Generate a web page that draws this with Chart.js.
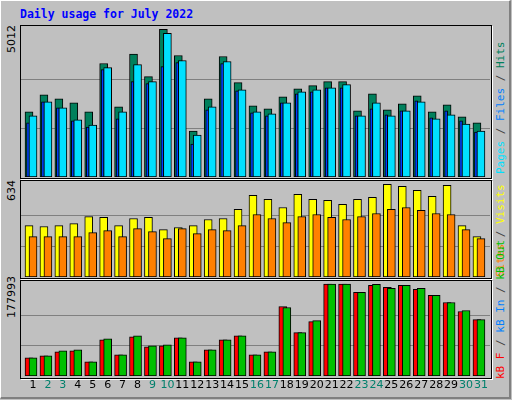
<!DOCTYPE html>
<html><head><meta charset="utf-8">
<script src="https://cdn.jsdelivr.net/npm/chart.js@4/dist/chart.umd.min.js"></script>
<style>
html,body{margin:0;padding:0;background:#C0C0C0;width:512px;height:400px;overflow:hidden}
#frame{position:absolute;left:0;top:0;width:508px;height:396px;border-right:2px solid #808080;border-bottom:2px solid #808080;border-left:1px solid #fff;border-top:1px solid #fff;background:#C0C0C0}
.panel{position:absolute;border:1px solid #000;box-shadow:1px 1px 0 #fff}
canvas{position:absolute}
.t{position:absolute;font-family:"DejaVu Sans Mono",monospace;font-size:11.5px;white-space:nowrap}
.rot{position:absolute;transform-origin:0 0;transform:rotate(-90deg);white-space:nowrap;font-family:"DejaVu Sans Mono",monospace;font-size:11px}
.lab{position:absolute;transform-origin:0 0;transform:rotate(-90deg);white-space:nowrap;font-family:"DejaVu Sans",sans-serif;font-size:11px;color:#000}
</style></head><body>
<div id="frame"></div>
<div class="t" style="left:20px;top:7px;color:#0000FF;font-weight:bold">Daily usage for July 2022</div>
<div class="panel" style="left:20px;top:25px;width:470px;height:152px"></div>
<div class="panel" style="left:20px;top:180px;width:470px;height:97px"></div>
<div class="panel" style="left:20px;top:280px;width:470px;height:97px"></div>
<canvas id="c1" width="469" height="151" style="left:21px;top:26px;width:469px;height:151px"></canvas>
<canvas id="c2" width="469" height="96" style="left:21px;top:181px;width:469px;height:96px"></canvas>
<canvas id="c3" width="469" height="117" style="left:21px;top:281px;width:469px;height:117px"></canvas>
<div id="m1" class="lab" style="left:5px;top:53px"></div>
<div id="m2" class="lab" style="left:5px;top:201px"></div>
<div id="m3" class="lab" style="left:5px;top:318px"></div>
<div class="rot" style="left:494px;top:174px"><span style="color:#00E0FF">Pages</span><span style="color:#404040"> / </span><span style="color:#0080FF">Files</span><span style="color:#404040"> / </span><span style="color:#00805C">Hits</span></div>
<div class="rot" style="left:494px;top:277px"><span style="color:#FF8000">Sites</span><span style="color:#404040"> / </span><span style="color:#FFFF00">Visits</span></div>
<div class="rot" style="left:494px;top:379px"><span style="color:#FF0000">kB F</span><span style="color:#404040"> / </span><span style="color:#0080FF">kB In</span><span style="color:#404040"> / </span><span style="color:#00C000">kB Out</span></div>
<script>
const days = [1,2,3,4,5,6,7,8,9,10,11,12,13,14,15,16,17,18,19,20,21,22,23,24,25,26,27,28,29,30,31];
const weekend = [2,3,9,10,16,17,23,24,30,31];
const hits  = [2210,2791,2654,2517,2210,3850,2381,4169,3406,5012,4123,1560,2654,4089,3201,2415,2312,2722,2996,3098,3235,3235,2244,2825,2278,2483,2756,2210,2449,2039,1834];
const files = [2073,2551,2346,1936,1765,3713,2210,3816,3235,4875,3952,1424,2381,3918,2961,2210,2141,2517,2893,2961,3030,3132,2073,2517,2073,2244,2551,1970,2107,1800,1560];
const pages = [1834,2551,2346,1902,1697,3645,1970,3235,3166,3747,3884,1116,2278,3850,2927,2175,2073,2517,2825,2893,3030,3030,2073,2312,2107,2244,2586,2005,2244,1902,1526];
const visits= [351,345,351,365,413,407,351,400,407,324,338,351,393,400,462,558,531,475,565,531,524,496,531,544,634,620,593,551,627,351,276];
const sites = [276,276,276,276,303,317,276,331,310,262,331,296,324,317,351,427,400,372,413,427,407,393,413,434,462,475,455,434,427,324,262];
const kbF   = [35078,38976,46771,48720,27283,70157,40925,76003,56515,58464,74054,27283,50669,70157,77952,40925,46771,134467,83798,105235,177993,177993,161750,175392,171494,175392,167597,155904,142262,124723,109133];
const kbOut = [35078,38976,48720,50669,27283,72106,40925,77952,58464,60413,74054,27283,50669,70157,77952,40925,46771,132518,83798,107184,177993,177993,161750,177343,169546,175392,169546,155904,142262,126672,109133];
const maxLabels = ["5012","634","177993"];
document.getElementById('m1').textContent=maxLabels[0];
document.getElementById('m2').textContent=maxLabels[1];
document.getElementById('m3').textContent=maxLabels[2];

const pts=(arr,off)=>arr.map((v,i)=>({x:days[i]+off,y:v}));
const ds=(arr,off,color,w,order)=>({data:pts(arr,off),backgroundColor:color,borderColor:'#000',borderWidth:1,borderSkipped:false,barThickness:w,grouped:false,order:order});

const gridPlugin={id:'grid',beforeDatasetsDraw(ch,a,o){
  const c=ch.ctx,y=ch.scales.y,ar=ch.chartArea;
  c.save();c.strokeStyle='#808080';c.lineWidth=1;
  ch.options.plugins.grid.lines.forEach(v=>{const p=Math.round(y.getPixelForValue(v))+0.5;c.beginPath();c.moveTo(ar.left,p);c.lineTo(ar.right,p);c.stroke();});
  c.restore();
}};
const dayPlugin={id:'daylab',afterDraw(ch){
  if(!ch.options.plugins.daylab.show)return;
  const c=ch.ctx,x=ch.scales.x;c.save();c.font='11px "DejaVu Sans", sans-serif';c.textAlign='center';c.textBaseline='top';
  days.forEach(d=>{c.fillStyle=weekend.includes(d)?'#00806C':'#000';c.fillText(String(d),x.getPixelForValue(d)+2,ch.chartArea.bottom+4);});
  c.restore();
}};
function make(id,datasets,ymax,lines,bottomPad,show){
  return new Chart(document.getElementById(id),{type:'bar',data:{datasets},
    options:{responsive:false,animation:false,events:[],layout:{padding:{left:0,right:0,top:0,bottom:bottomPad}},
      plugins:{legend:{display:false},tooltip:{enabled:false},grid:{lines},daylab:{show}},
      scales:{x:{type:'linear',min:0.33,max:31.74,offset:false,display:false},y:{min:0,max:ymax,display:false}}},
    plugins:[gridPlugin,dayPlugin]});
}
make('c1',[ds(hits,-0.134,'#00805C',8,3),ds(pages,-0.2,'#0040FF',3,2),ds(files,0.134,'#00E0FF',8,1)],5124,[5012/3,5012*2/3],0,false);
make('c2',[ds(visits,-0.134,'#FFFF00',8,2),ds(sites,0.134,'#FF8000',8,1)],656,[634/3,634*2/3],0,false);
make('c3',[ds(kbF,-0.134,'#FF0000',8,2),ds(kbOut,0.134,'#00C000',8,1)],183800,[177993/3,177993*2/3],22,true);
</script></body></html>
